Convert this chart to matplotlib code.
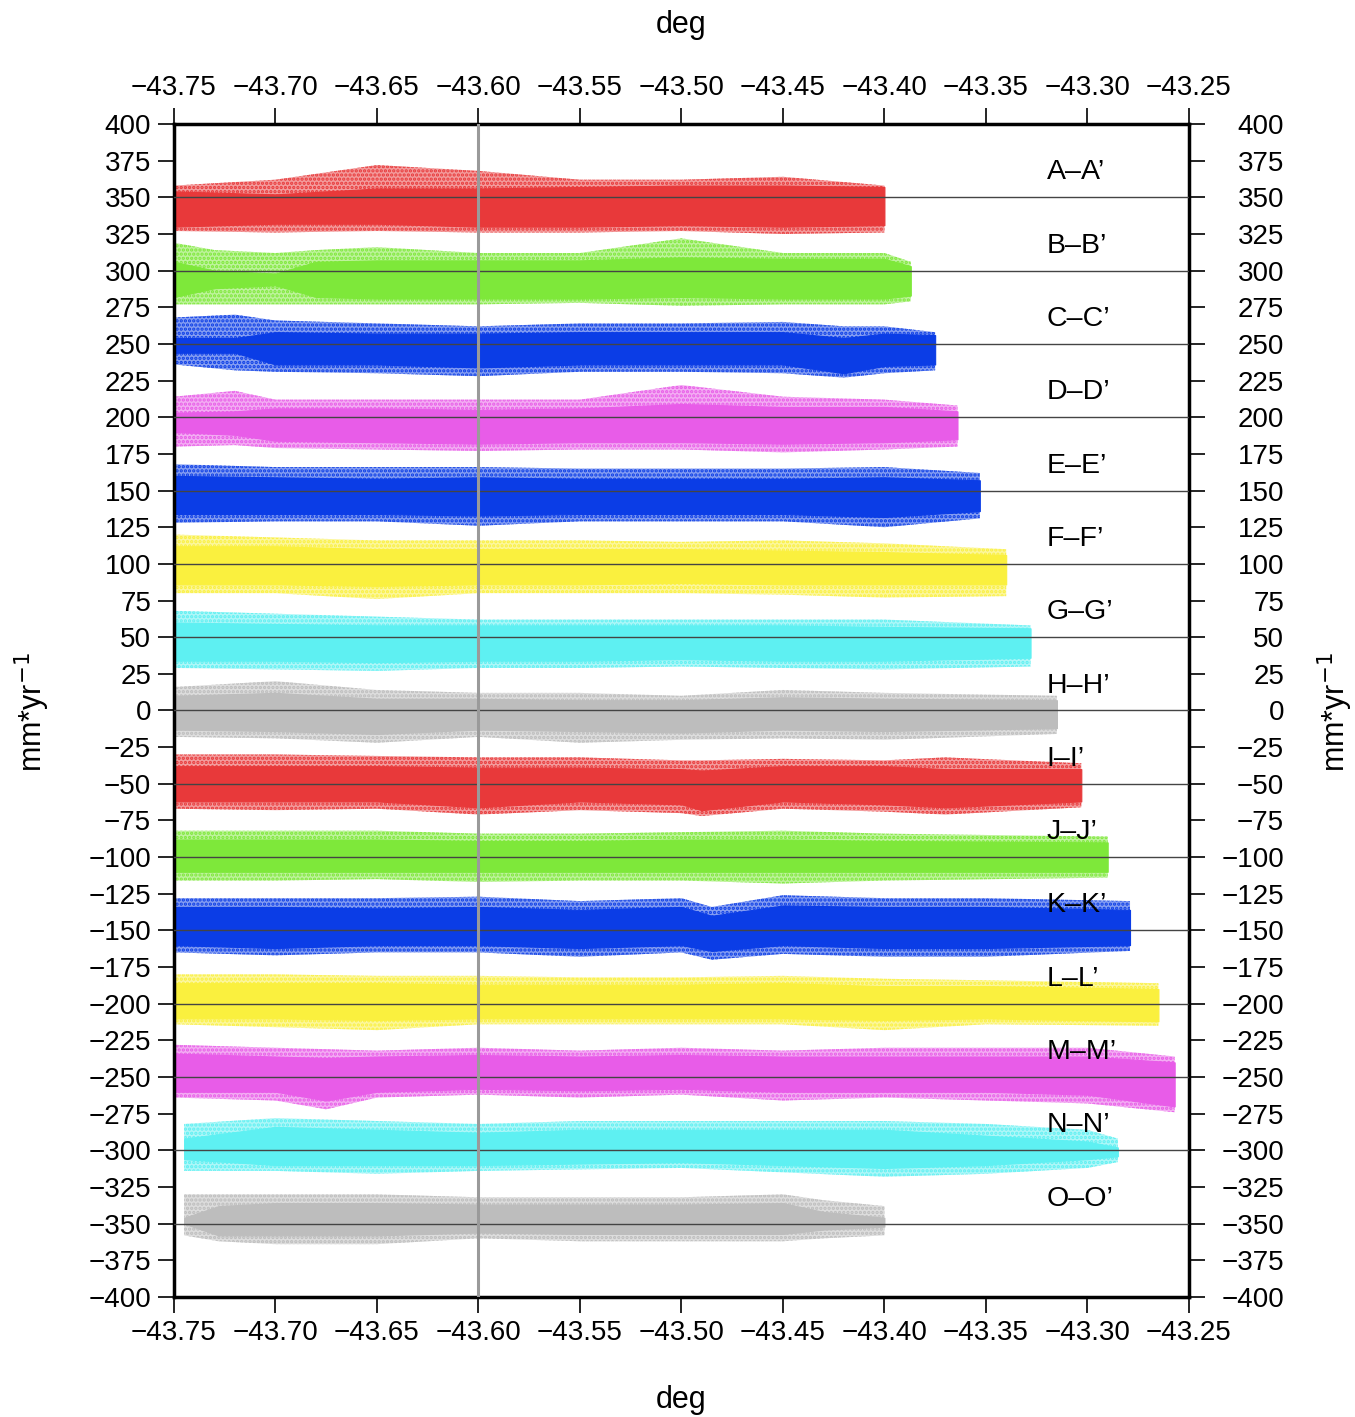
import matplotlib
matplotlib.use("Agg")
import matplotlib.pyplot as plt

plt.rcParams['font.family'] = ['Liberation Sans', 'DejaVu Sans']
plt.rcParams['hatch.linewidth'] = 1.6

# profils : nom, ligne de base (mm/yr)
names = ["A–A’", "B–B’", "C–C’", "D–D’", "E–E’", "F–F’", "G–G’", "H–H’",
         "I–I’", "J–J’", "K–K’", "L–L’", "M–M’", "N–N’", "O–O’"]
baselines = [350, 300, 250, 200, 150, 100, 50, 0,
             -50, -100, -150, -200, -250, -300, -350]
colors = ["#e8393a", "#7ee83a", "#0b3de6", "#e85ce8", "#0b3de6", "#faf03e",
          "#5ef0f2", "#bdbdbd", "#e8393a", "#7ee83a", "#0b3de6", "#faf03e",
          "#e85ce8", "#5ef0f2", "#bdbdbd"]

# longitudes (deg)
lons = [
    [-43.75, -43.70, -43.65, -43.60, -43.55, -43.50, -43.45, -43.40],
    [-43.75, -43.73, -43.70, -43.68, -43.65, -43.60, -43.55, -43.50, -43.45, -43.40, -43.387],
    [-43.75, -43.72, -43.70, -43.65, -43.60, -43.55, -43.50, -43.45, -43.42, -43.40, -43.375],
    [-43.75, -43.72, -43.70, -43.65, -43.60, -43.55, -43.50, -43.45, -43.40, -43.364],
    [-43.75, -43.70, -43.65, -43.60, -43.55, -43.50, -43.45, -43.40, -43.353],
    [-43.75, -43.70, -43.65, -43.60, -43.55, -43.50, -43.45, -43.40, -43.34],
    [-43.75, -43.70, -43.65, -43.60, -43.55, -43.50, -43.45, -43.40, -43.328],
    [-43.75, -43.70, -43.65, -43.60, -43.55, -43.50, -43.45, -43.40, -43.315],
    [-43.75, -43.70, -43.65, -43.60, -43.55, -43.50, -43.49, -43.45, -43.40, -43.37, -43.303],
    [-43.75, -43.70, -43.65, -43.60, -43.55, -43.50, -43.45, -43.40, -43.29],
    [-43.75, -43.70, -43.65, -43.60, -43.55, -43.50, -43.485, -43.45, -43.40, -43.35, -43.279],
    [-43.75, -43.70, -43.65, -43.60, -43.55, -43.50, -43.45, -43.40, -43.35, -43.265],
    [-43.75, -43.70, -43.675, -43.65, -43.60, -43.55, -43.50, -43.45, -43.40, -43.35, -43.30, -43.257],
    [-43.745, -43.70, -43.65, -43.60, -43.55, -43.50, -43.45, -43.40, -43.35, -43.30, -43.285],
    [-43.745, -43.728, -43.70, -43.65, -43.60, -43.55, -43.50, -43.45, -43.43, -43.40],
]

# enveloppe des points dispersés (haut / bas)
halo_top = [
    [358, 362, 372, 368, 362, 362, 364, 358],
    [319, 314, 312, 314, 316, 312, 312, 322, 312, 312, 306],
    [268, 270, 266, 264, 262, 264, 264, 265, 262, 262, 258],
    [214, 218, 212, 212, 212, 212, 222, 214, 212, 208],
    [168, 166, 166, 166, 165, 165, 165, 166, 162],
    [120, 118, 116, 116, 116, 115, 116, 114, 110],
    [68, 66, 64, 62, 62, 62, 62, 62, 58],
    [16, 20, 14, 12, 12, 10, 14, 12, 10],
    [-30, -30, -31, -32, -32, -34, -34, -33, -34, -32, -36],
    [-82, -82, -82, -84, -84, -83, -82, -84, -86],
    [-128, -128, -128, -127, -130, -128, -134, -126, -128, -128, -130],
    [-180, -180, -181, -181, -182, -182, -181, -183, -184, -186],
    [-228, -230, -231, -232, -230, -232, -230, -232, -230, -230, -230, -236],
    [-282, -278, -280, -282, -280, -280, -280, -280, -282, -286, -292],
    [-330, -330, -330, -330, -332, -332, -332, -330, -334, -338],
]
halo_bot = [
    [327, 326, 327, 326, 326, 327, 325, 326],
    [277, 277, 277, 277, 277, 277, 278, 276, 277, 277, 279],
    [236, 232, 231, 230, 228, 231, 231, 230, 227, 230, 232],
    [180, 181, 179, 178, 177, 178, 178, 176, 178, 180],
    [128, 129, 129, 126, 129, 129, 129, 125, 131],
    [80, 80, 76, 80, 80, 80, 79, 77, 78],
    [29, 28, 27, 29, 29, 30, 29, 28, 30],
    [-18, -19, -22, -18, -22, -20, -19, -20, -16],
    [-67, -68, -67, -71, -68, -70, -72, -67, -69, -71, -66],
    [-116, -116, -115, -117, -116, -116, -118, -116, -114],
    [-165, -167, -165, -165, -168, -165, -170, -166, -168, -168, -164],
    [-214, -216, -218, -214, -214, -214, -214, -218, -214, -215],
    [-264, -266, -272, -264, -262, -264, -262, -266, -264, -266, -268, -274],
    [-314, -314, -316, -314, -313, -312, -315, -318, -316, -312, -308],
    [-358, -362, -364, -364, -360, -362, -362, -362, -360, -358],
]

# partie dense du nuage (haut / bas)
core_top = [
    [354, 352, 356, 356, 357, 358, 358, 357],
    [306, 300, 298, 306, 307, 307, 307, 309, 308, 308, 303],
    [254, 254, 258, 257, 257, 258, 258, 258, 254, 257, 256],
    [203, 204, 206, 206, 205, 206, 209, 207, 207, 204],
    [160, 159, 158, 159, 158, 158, 158, 159, 157],
    [112, 112, 110, 110, 110, 110, 109, 108, 106],
    [60, 59, 58, 58, 58, 58, 58, 57, 56],
    [10, 12, 8, 8, 7, 7, 9, 8, 7],
    [-38, -38, -38, -39, -39, -40, -41, -38, -38, -40, -40],
    [-88, -88, -88, -89, -89, -88, -88, -89, -90],
    [-134, -134, -135, -134, -136, -134, -140, -133, -134, -134, -136],
    [-186, -186, -186, -187, -187, -187, -186, -188, -188, -190],
    [-234, -236, -237, -236, -235, -236, -235, -236, -236, -236, -236, -240],
    [-292, -284, -286, -288, -286, -286, -286, -286, -290, -294, -298],
    [-346, -338, -336, -336, -337, -337, -337, -336, -342, -346],
]
core_bot = [
    [330, 332, 332, 330, 330, 331, 330, 331],
    [282, 288, 290, 282, 281, 281, 281, 282, 281, 281, 283],
    [244, 244, 236, 236, 234, 236, 236, 236, 230, 235, 236],
    [190, 188, 184, 183, 182, 183, 183, 182, 183, 185],
    [134, 134, 134, 133, 134, 134, 134, 132, 136],
    [86, 86, 85, 86, 86, 87, 86, 86, 86],
    [34, 34, 33, 34, 34, 35, 34, 34, 36],
    [-13, -14, -16, -13, -14, -15, -13, -14, -12],
    [-62, -62, -62, -66, -62, -64, -68, -62, -64, -66, -62],
    [-110, -110, -110, -110, -110, -110, -110, -110, -110],
    [-160, -162, -160, -160, -162, -160, -164, -160, -162, -162, -160],
    [-210, -210, -211, -210, -210, -210, -210, -211, -210, -212],
    [-260, -260, -266, -260, -258, -259, -258, -260, -260, -260, -262, -270],
    [-306, -310, -310, -310, -309, -308, -310, -312, -310, -306, -304],
    [-350, -358, -358, -358, -356, -357, -357, -357, -354, -352],
]

xticks = [-43.75, -43.70, -43.65, -43.60, -43.55, -43.50,
          -43.45, -43.40, -43.35, -43.30, -43.25]
yticks = list(range(-400, 401, 25))

fig = plt.figure(figsize=(13.55, 14.17), dpi=100)
ax = fig.add_axes([0.1284, 0.0847, 0.749, 0.8278])

for i in range(len(names)):
    c = colors[i]
    ax.fill_between(lons[i], halo_bot[i], halo_top[i], facecolor=c, alpha=0.5,
                    linewidth=0, zorder=1)
    ax.fill_between(lons[i], halo_bot[i], halo_top[i], facecolor='none',
                    edgecolor=c, hatch='....', linewidth=0, zorder=1)
    ax.fill_between(lons[i], core_bot[i], core_top[i], facecolor=c,
                    edgecolor=c, linewidth=0.8, zorder=2)
    ax.axhline(baselines[i], color='#444444', lw=1.0, zorder=3)
    ax.text(-43.32, baselines[i] + 17, names[i], fontsize=20.5, va='center',
            ha='left', zorder=5)

ax.axvline(-43.60, color='#9a9a9a', lw=2.2, zorder=4)

ax.set_xlim(-43.75, -43.25)
ax.set_ylim(-400, 400)
ax.set_xticks(xticks)
ax.set_yticks(yticks)
ax.xaxis.set_major_formatter(matplotlib.ticker.FuncFormatter(
    lambda v, p: ('%.2f' % v).replace('-', '\u2212')))
ax.tick_params(direction='out', length=11.5, width=1.2, labelsize=20,
               top=True, right=True, labeltop=True, labelright=False, pad=5)
for s in ax.spines.values():
    s.set_linewidth(2.5)

# axe de droite : étiquettes alignées à droite
ax2 = ax.twinx()
ax2.set_ylim(-400, 400)
ax2.set_yticks(yticks)
ax2.tick_params(direction='out', length=11.5, width=1.2, labelsize=20, pad=57)
for lab in ax2.get_yticklabels():
    lab.set_horizontalalignment('right')
for s in ax2.spines.values():
    s.set_visible(False)

fig.text(681 / 1355, 1 - 25 / 1417, 'deg', fontsize=22, ha='center', va='center')
fig.text(681 / 1355, 1 - 1400 / 1417, 'deg', fontsize=22, ha='center', va='center')
fig.text(32 / 1355, 1 - 712 / 1417, 'mm*yr$^{-1}$', fontsize=22,
         rotation=90, ha='center', va='center')
fig.text(1335 / 1355, 1 - 712 / 1417, 'mm*yr$^{-1}$', fontsize=22,
         rotation=90, ha='center', va='center')

plt.savefig('out.png', dpi=100)
